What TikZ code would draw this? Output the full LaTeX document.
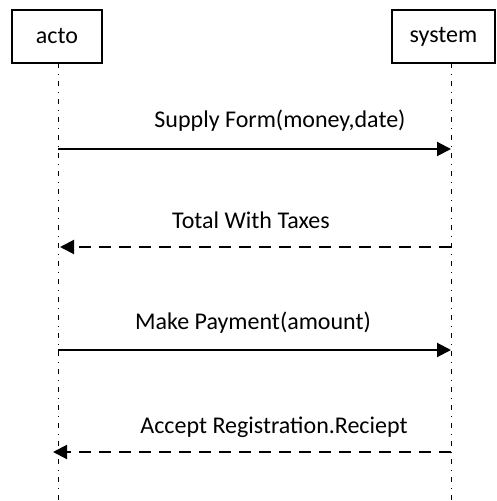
\documentclass[tikz,border=0pt]{standalone}
\usepackage{fontspec}
\setmainfont{Carlito}
\usepackage{tikz}
\usetikzlibrary{arrows.meta}

\tikzset{
  objbox/.style={draw, line width=1pt, minimum height=26.5pt, inner sep=0pt},
  lifeline/.style={line width=0.5pt, dash pattern=on 2.5pt off 3pt on 0.5pt off 3pt},
  callmsg/.style={-{Triangle[length=7pt, width=7pt]}, line width=1pt},
  replymsg/.style={-{Triangle[length=7pt, width=7pt]}, line width=1pt, dash pattern=on 6pt off 4pt},
  msglabel/.style={font=\fontsize{12}{14}\selectfont, inner sep=0pt}
}

\begin{document}
\begin{tikzpicture}[x=0.5pt, y=-0.5pt]
    \useasboundingbox (0,0) rectangle (496,501);

    % objects
    \node[objbox, minimum width=45pt, font=\fontsize{12}{14}\selectfont] (acto) at (57,36.5) {acto};
    \node[objbox, minimum width=51.5pt, font=\fontsize{12}{14}\selectfont] (system) at (443.5,36.5) {system};

    % lifelines
    \coordinate (actotop) at (58,63);
    \coordinate (actoend) at (58,501);
    \coordinate (systop) at (451,63);
    \coordinate (sysend) at (451,501);
    \draw[lifeline] (actotop) -- (actoend);
    \draw[lifeline] (systop) -- (sysend);

    % messages
    \coordinate (a1) at (58,149);  \coordinate (s1) at (451,149);
    \coordinate (s2) at (451,247); \coordinate (a2) at (60,247);
    \coordinate (a3) at (58,350);  \coordinate (s3) at (451,350);
    \coordinate (s4) at (451,452); \coordinate (a4) at (53,452);

    \draw[callmsg] (a1) -- (s1);
    \draw[replymsg] (s2) -- (a2);
    \draw[callmsg] (a3) -- (s3);
    \draw[replymsg] (s4) -- (a4);

    \node[msglabel] (l1) at (280,121) {Supply Form(money,date)};
    \node[msglabel] (l2) at (251,220) {Total With Taxes};
    \node[msglabel] (l3) at (253,323) {Make Payment(amount)};
    \node[msglabel] (l4) at (274,427) {Accept Registration.Reciept};
\end{tikzpicture}
\end{document}
